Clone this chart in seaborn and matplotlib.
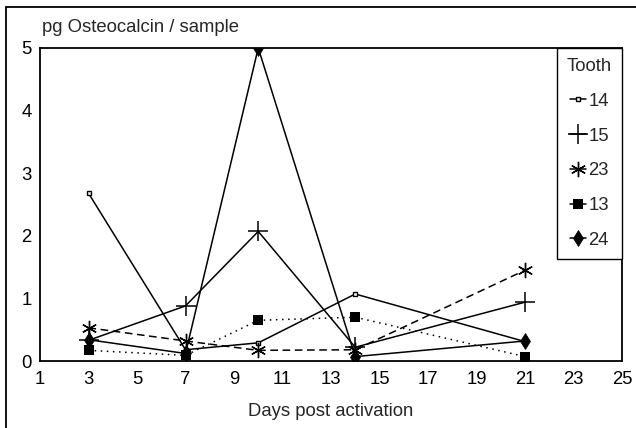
import matplotlib
matplotlib.use("Agg")
import matplotlib.pyplot as plt
import seaborn as sns
import pandas as pd
from matplotlib.lines import Line2D

# valores
days = [3, 7, 10, 14, 21]
teeth = ["14", "15", "23", "13", "24"]
tooth_14 = [2.68, 0.18, 0.29, 1.07, 0.31]
tooth_15 = [0.33, 0.88, 2.07, 0.22, 0.94]
tooth_23 = [0.53, 0.32, 0.17, 0.18, 1.45]
tooth_13 = [0.17, 0.09, 0.65, 0.70, 0.07]
tooth_24 = [0.34, 0.12, 5.00, 0.07, 0.32]
x_ticks = [1, 3, 5, 7, 9, 11, 13, 15, 17, 19, 21, 23, 25]
y_ticks = [0, 1, 2, 3, 4, 5]

valores = {"14": tooth_14, "15": tooth_15, "23": tooth_23, "13": tooth_13, "24": tooth_24}
df = pd.DataFrame(
    [(d, t, v) for t in teeth for d, v in zip(days, valores[t])],
    columns=["dia", "tooth", "osteocalcina"],
)

# estilo de cada dente (marcador, tracejado)
estilos = {
    "14": dict(marker="s", markersize=3.5, markerfacecolor="white", markeredgewidth=1.0, linestyle="-"),
    "15": dict(marker="+", markersize=14, markeredgewidth=1.1, linestyle="-"),
    "23": dict(marker=(6, 2, 0), markersize=11, markeredgewidth=1.0, linestyle=(0, (5, 3))),
    "13": dict(marker="s", markersize=6.5, markeredgewidth=0, linestyle=(0, (1, 3))),
    "24": dict(marker="d", markersize=8, markeredgewidth=0.5, linestyle="-"),
}

sns.set_style("white")
plt.rcParams["font.family"] = ["Liberation Sans", "DejaVu Sans"]
FS = 13.3

fig = plt.figure(figsize=(6.36, 4.28), dpi=100)
ax = fig.add_axes([40 / 636, 1 - 361 / 428, 582 / 636, 313 / 428])

for t in teeth:
    sns.lineplot(
        data=df[df["tooth"] == t], x="dia", y="osteocalcina",
        color="black", linewidth=1.1, markeredgecolor="black", ax=ax, **estilos[t]
    )

ax.set_xlim(1, 25)
ax.set_ylim(0, 5)
ax.set_xticks(x_ticks)
ax.set_yticks(y_ticks)
ax.tick_params(length=0, labelsize=FS, colors="black")
ax.tick_params(axis="x", pad=7)
ax.tick_params(axis="y", pad=6)
for s in ax.spines.values():
    s.set_color("black")
    s.set_linewidth(1.3)

ax.set_xlabel("Days post activation", fontsize=FS, labelpad=11)
ax.set_ylabel("")

# legenda montada a partir dos mesmos estilos
handles = [
    Line2D([], [], color="black", linewidth=1.1, markeredgecolor="black",
           **{**estilos[t], "linestyle": "-"})
    for t in teeth
]
leg = ax.legend(
    handles, teeth, title="Tooth", loc="upper right", bbox_to_anchor=(1, 1), borderaxespad=0,
    fontsize=FS, title_fontsize=FS, handlelength=0.9, handletextpad=0.1,
    labelspacing=0.96, borderpad=0.55, fancybox=False, framealpha=1,
)
leg.get_frame().set_edgecolor("black")
leg.get_frame().set_linewidth(1.0)

fig.text(42 / 636, 1 - 28 / 428, "pg Osteocalcin / sample", fontsize=FS, va="center", ha="left")

# moldura da figura (linhas de cima e da esquerda)
fig.add_artist(Line2D([6 / 636, 1], [1 - 7 / 428] * 2, transform=fig.transFigure, color="black", lw=1.3))
fig.add_artist(Line2D([6 / 636] * 2, [0, 1 - 7 / 428], transform=fig.transFigure, color="black", lw=1.3))

fig.savefig("out.png", dpi=100)
plt.close(fig)
